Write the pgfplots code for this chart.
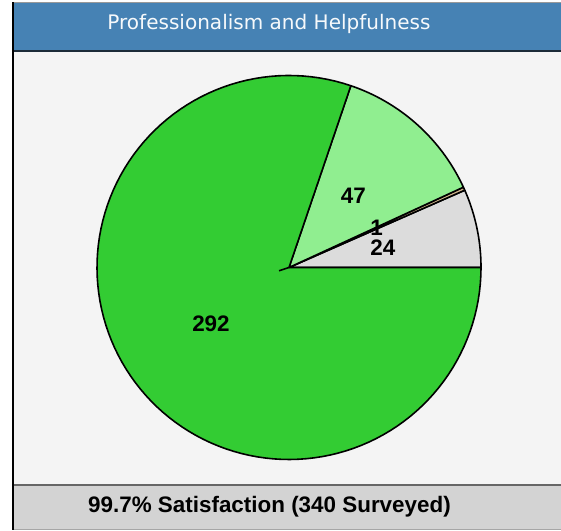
\documentclass[border=0pt]{standalone}
\usepackage{fontspec}
\setmainfont{Liberation Sans}
\newfontfamily\dejavu{DejaVu Sans}
\usepackage{pgfplots}
\usepackage{pgfplotstable}
\pgfplotsset{compat=1.18}
\definecolor{hdr}{HTML}{4682B4}
\definecolor{hdrline}{HTML}{1C2B38}
\definecolor{panel}{HTML}{F4F4F4}
\definecolor{footer}{HTML}{D3D3D3}
\definecolor{sgrey}{HTML}{DCDCDC}
\definecolor{stan}{HTML}{D2B48C}
\definecolor{slgreen}{HTML}{90EE90}
\definecolor{sgreen}{HTML}{33CC33}
\pgfplotstableread{
value color
24 sgrey
1 stan
47 slgreen
292 sgreen
}\piedata
\begin{document}
\begin{tikzpicture}[x=1bp,y=1bp]
\path[use as bounding box] (0,0) rectangle (561,531);
\fill[white] (0,0) rectangle (561,531);
\fill[panel] (13,46) rectangle (561,480);
\fill[footer] (13,1) rectangle (561,46);
\fill[hdr] (13,480) rectangle (561,528.5);
\draw[gray!80, line width=1bp] (13,528.5) -- (561,528.5);
\draw[hdrline, line width=1.5bp] (13,480) -- (561,480);
\draw[gray!80!black, line width=1.2bp] (13,46) -- (561,46);
\draw[gray!70, line width=1bp] (13,1) -- (561,1);
\draw[black, line width=1.4bp] (13,1) -- (13,528.5);
\node[anchor=base, text=white!95!hdr, font=\dejavu\fontsize{20.1}{20}\selectfont, inner sep=0pt] at (269,501) {Professionalism and Helpfulness};
\node[anchor=base, font=\bfseries\fontsize{22.5}{22}\selectfont, inner sep=0pt] at (269.5,18) {99.7\% Satisfaction (340 Surveyed)};
\xdef\total{0}
\pgfplotstableforeachcolumnelement{value}\of\piedata\as\v{\pgfmathsetmacro\tmp{\total+\v}\xdef\total{\tmp}}
\begin{axis}[at={(289bp,263.5bp)}, anchor=origin, width=384bp, height=384bp, scale only axis,
  xmin=-1, xmax=1, ymin=-1, ymax=1, hide axis, clip=false]
\xdef\startang{0}
\pgfplotsforeachungrouped \i in {0,...,3}{%
  \pgfplotstablegetelem{\i}{value}\of\piedata \let\v=\pgfplotsretval
  \pgfplotstablegetelem{\i}{color}\of\piedata \let\c=\pgfplotsretval
  \pgfmathsetmacro\endang{\startang+\v*(360/\total)}
  \edef\temp{\noexpand\addplot[fill=\c, draw=black, line width=1.6bp, line join=round, domain=\startang:\endang, samples=120] ({cos(x)},{sin(x)}) -- (axis cs:0,0) -- cycle;}
  \temp
  \xdef\startang{\endang}%
}
\draw[black, line width=1.6bp] (axis cs:0,0) -- (axis cs:-0.052,-0.017);
\xdef\startang{0}
\pgfplotsforeachungrouped \i in {0,...,3}{%
  \pgfplotstablegetelem{\i}{value}\of\piedata \let\v=\pgfplotsretval
  \pgfmathsetmacro\endang{\startang+\v*(360/\total)}
  \pgfmathsetmacro\midang{(\startang+\endang)/2}
  \edef\temp{\noexpand\node[inner sep=0pt, font=\noexpand\bfseries\noexpand\fontsize{22.5}{22}\noexpand\selectfont] at (axis cs:{0.5*cos(\midang)},{0.5*sin(\midang)}) {\v};}
  \temp
  \xdef\startang{\endang}%
}
\end{axis}
\end{tikzpicture}
\end{document}
